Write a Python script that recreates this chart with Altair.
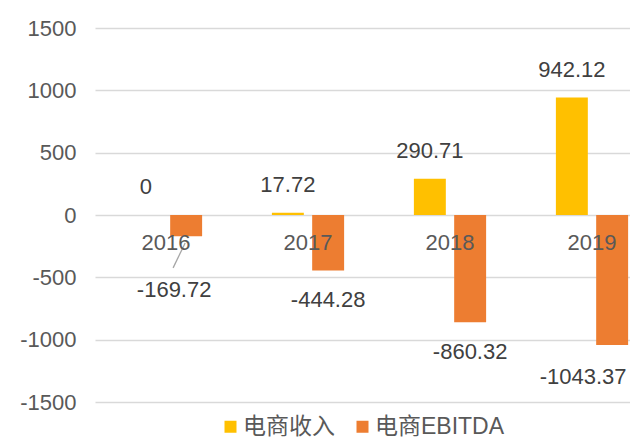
import altair as alt
import pandas as pd

years = ["2016", "2017", "2018", "2019"]
revenue = [0, 17.72, 290.71, 942.12]
ebitda = [-169.72, -444.28, -860.32, -1043.37]
series = ["电商收入", "电商EBITDA"]
colors = ["#FFC000", "#ED7D31"]
y_ticks = [-1500, -1000, -500, 0, 500, 1000, 1500]

rows = []
for i, yr in enumerate(years):
    rows.append({"year": yr, "series": series[0], "value": revenue[i], "label": str(revenue[i])})
    rows.append({"year": yr, "series": series[1], "value": ebitda[i], "label": str(ebitda[i])})
df = pd.DataFrame(rows)

FONT = "Liberation Sans, Noto Sans CJK SC, sans-serif"

x_enc = alt.X(
    "year:N",
    sort=years,
    scale=alt.Scale(range=[-1, 567], paddingInner=0, paddingOuter=0),
    axis=alt.Axis(orient="bottom", offset=-187, domain=False, ticks=False, labelPadding=17,
                  labelFontSize=22, labelColor="#595959", labelAngle=0, title=None, zindex=1,
                  labelFont=FONT),
)
xo_enc = alt.XOffset("series:N", sort=series,
                     scale=alt.Scale(domain=series, paddingInner=0.207, paddingOuter=0.866))
y_enc = alt.Y(
    "value:Q",
    scale=alt.Scale(domain=[-1500, 1500], nice=False),
    axis=alt.Axis(values=y_ticks, grid=True, gridColor="#D9D9D9", gridWidth=1.3, domain=False,
                  ticks=False, labelPadding=20, labelFontSize=22, labelColor="#595959",
                  title=None, labelFont=FONT, labelExpr="datum.value + ''"),
)

base = alt.Chart(df)

bars = base.mark_bar().encode(
    x=x_enc,
    xOffset=xo_enc,
    y=y_enc,
    color=alt.Color("series:N", sort=series,
                    scale=alt.Scale(domain=series, range=colors),
                    legend=alt.Legend(orient="none", legendX=123, legendY=387,
                                      direction="horizontal", title=None,
                                      symbolType="square", symbolSize=144, symbolStrokeWidth=0,
                                      labelFontSize=23, labelColor="#595959", labelFont=FONT,
                                      columnPadding=16, labelOffset=1)),
)

txt_common = dict(fontSize=22, color="#404040", font=FONT, baseline="middle", align="center")

pos_labels = base.transform_filter(
    alt.FieldEqualPredicate(field="series", equal=series[0])
).mark_text(dy=-28, **txt_common).encode(x=x_enc, xOffset=xo_enc, y=y_enc, text="label:N")

neg_labels = base.transform_filter(
    alt.FieldEqualPredicate(field="series", equal=series[1])
).transform_filter(
    alt.FieldOneOfPredicate(field="year", oneOf=["2017", "2018"])
).mark_text(dy=30, **txt_common).encode(x=x_enc, xOffset=xo_enc, y=y_enc, text="label:N")

neg_2016 = base.transform_filter(
    alt.FieldEqualPredicate(field="series", equal=series[1])
).transform_filter(
    alt.FieldEqualPredicate(field="year", equal="2016")
).mark_text(dy=54, dx=-12, **txt_common).encode(x=x_enc, xOffset=xo_enc, y=y_enc, text="label:N")

neg_2019 = base.transform_filter(
    alt.FieldEqualPredicate(field="series", equal=series[1])
).transform_filter(
    alt.FieldEqualPredicate(field="year", equal="2019")
).mark_text(dy=32, dx=-29, **txt_common).encode(x=x_enc, xOffset=xo_enc, y=y_enc, text="label:N")

leader = alt.Chart(pd.DataFrame({"year": ["2016"]})).mark_rule(color="#A6A6A6", strokeWidth=1.3).encode(
    x=alt.X("year:N", bandPosition=0.55),
    x2=alt.X2("year:N", bandPosition=0.635),
    y=alt.datum(-424),
    y2=alt.datum(-224),
)

chart = alt.layer(bars, leader, pos_labels, neg_labels, neg_2016, neg_2019).properties(
    width=534,
    height=374,
    padding={"left": 88, "top": 20, "right": 0, "bottom": 37},
    autosize=alt.AutoSizeParams(type="none"),
    background="white",
).configure_view(stroke=None)

chart.save("out.html", embed_options={"renderer": "svg", "actions": False})
